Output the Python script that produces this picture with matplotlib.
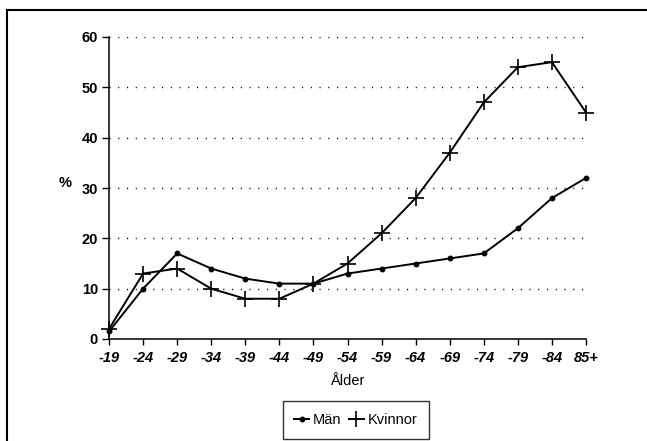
import matplotlib
matplotlib.use("Agg")
import matplotlib.pyplot as plt
from matplotlib.lines import Line2D

categories = ["-19", "-24", "-29", "-34", "-39", "-44", "-49", "-54", "-59",
              "-64", "-69", "-74", "-79", "-84", "85+"]
man = [1.5, 10, 17, 14, 12, 11, 11, 13, 14, 15, 16, 17, 22, 28, 32]
kvinnor = [2, 13, 14, 10, 8, 8, 11, 15, 21, 28, 37, 47, 54, 55, 45]
yticks = [0, 10, 20, 30, 40, 50, 60]

plt.rcParams['font.family'] = ['Liberation Sans', 'DejaVu Sans']

fig = plt.figure(figsize=(6.47, 4.41), dpi=100)
W, H = 647, 441
ax = fig.add_axes([109 / W, 1 - 339 / H, (586 - 109) / W, (339 - 37) / H])

x = list(range(len(categories)))
for yv in yticks[1:]:
    ax.axhline(yv, color='black', lw=1.0, linestyle=(0, (0.8, 5.5)), zorder=1)

l1, = ax.plot(x, man, color='black', lw=1.4, marker='o', markersize=3.2,
              label='Män', zorder=3, clip_on=False)
l2, = ax.plot(x, kvinnor, color='black', lw=1.4, marker='+', markersize=11,
              markeredgewidth=1.2, label='Kvinnor', zorder=3, clip_on=False)

ax.set_xlim(0, len(categories) - 1)
ax.set_ylim(0, 60)
ax.set_xticks(x)
ax.set_xticklabels(categories, fontsize=10.5, fontstyle='italic', fontweight='bold')
ax.set_yticks(yticks)
ax.set_yticklabels([str(v) for v in yticks], fontsize=10.5, fontweight='bold')
ax.tick_params(axis='x', direction='out', length=4, width=1, pad=5)
ax.tick_params(axis='y', direction='out', length=5, width=1, pad=3)
for s in ['top', 'right']:
    ax.spines[s].set_visible(False)
for s in ['left', 'bottom']:
    ax.spines[s].set_linewidth(1.1)

ax.set_xlabel('Ålder', fontsize=10.5, labelpad=6)
fig.text(65 / W, 1 - 183 / H, '%', fontsize=10.5, fontweight='bold',
         ha='center', va='center')

leg = fig.legend(handles=[l1, l2], labels=['Män', 'Kvinnor'], ncol=2,
                 loc='center', bbox_to_anchor=(356 / W, 1 - 420 / H),
                 fontsize=10.5, frameon=True, fancybox=False, handlelength=1.0,
                 handletextpad=0.3, columnspacing=0.5, borderpad=0.8,
                 borderaxespad=0)
leg.get_frame().set_edgecolor('black')
leg.get_frame().set_linewidth(1.0)

# outer frame (left and top edges visible)
fig.add_artist(Line2D([7 / W, 7 / W], [0, 1 - 10 / H], color='black', lw=1.5,
                      transform=fig.transFigure))
fig.add_artist(Line2D([7 / W, 1], [1 - 10 / H, 1 - 10 / H], color='black', lw=1.5,
                      transform=fig.transFigure))

fig.savefig('out.png', dpi=100)
